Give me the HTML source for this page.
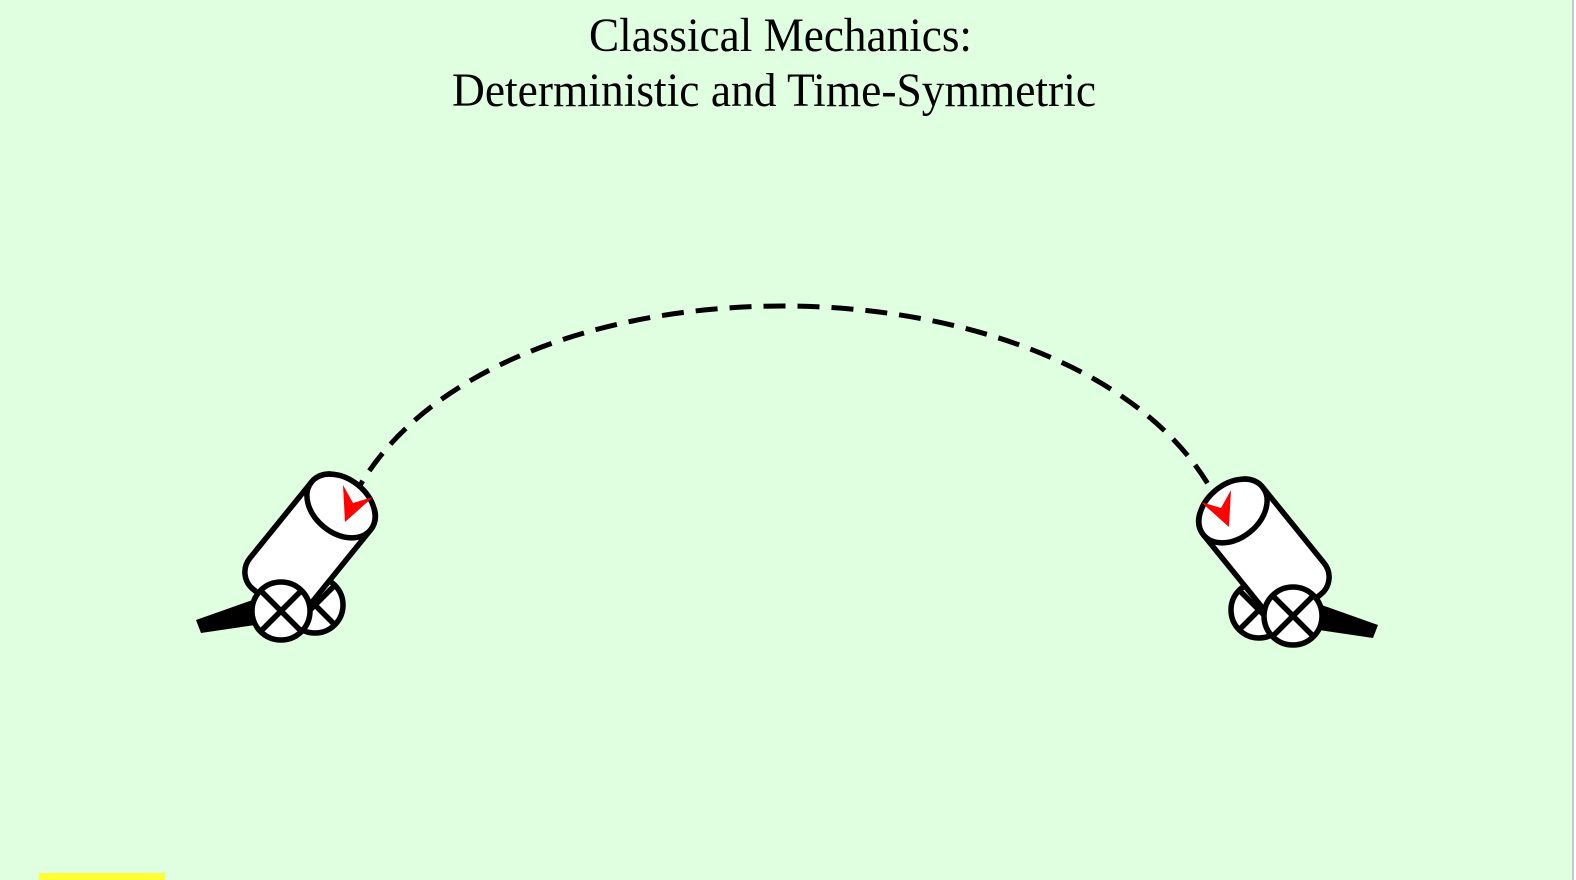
<!DOCTYPE html>
<html><head><meta charset="utf-8"><style>
html,body{margin:0;padding:0;background:#fff;}
svg{display:block;}
</style></head><body>
<svg width="1576" height="880" viewBox="0 0 1576 880" xmlns="http://www.w3.org/2000/svg">
<rect x="0" y="0" width="1573" height="880" fill="#e0ffe0"/>
<rect x="1572" y="0" width="2" height="880" fill="#c8c8c8"/>
<rect x="39" y="873" width="126" height="7" fill="#ffff33"/>
<g font-family="Liberation Serif, serif" font-size="48" fill="#000">
<text x="589" y="51" textLength="383" lengthAdjust="spacingAndGlyphs">Classical Mechanics:</text>
<text x="452" y="106" textLength="644" lengthAdjust="spacingAndGlyphs">Deterministic and Time-Symmetric</text>
</g>
<path d="M352,500 C482,240 1088,242 1218,502" fill="none" stroke="#000" stroke-width="5" stroke-dasharray="22,12"/>
<defs>
<g id="cannon">
  <polygon points="196,620 201,633 262,624 258,598" fill="#000"/>
  <circle cx="315" cy="605" r="28" fill="#fff" stroke="#000" stroke-width="5.5"/>
  <line x1="295" y1="585" x2="335" y2="625" stroke="#000" stroke-width="5.5"/>
  <line x1="295" y1="625" x2="335" y2="585" stroke="#000" stroke-width="5.5"/>
  <g transform="translate(341,506) rotate(-51)">
    <rect x="-120" y="-38" width="142" height="76" rx="22" fill="#fff" stroke="#000" stroke-width="5.5"/>
    <ellipse cx="0" cy="0" rx="27" ry="38" fill="#fff" stroke="#000" stroke-width="5.5"/>
  </g>
  <circle cx="281" cy="611" r="29" fill="#fff" stroke="#000" stroke-width="5.5"/>
  <line x1="260" y1="590" x2="302" y2="632" stroke="#000" stroke-width="5.5"/>
  <line x1="260" y1="632" x2="302" y2="590" stroke="#000" stroke-width="5.5"/>
  <polygon points="345,522 343,485 353,503 373,497" fill="#ff0000"/>
</g>
</defs>
<use href="#cannon"/>
<use href="#cannon" transform="translate(1574,5) scale(-1,1)"/>
</svg>
</body></html>
